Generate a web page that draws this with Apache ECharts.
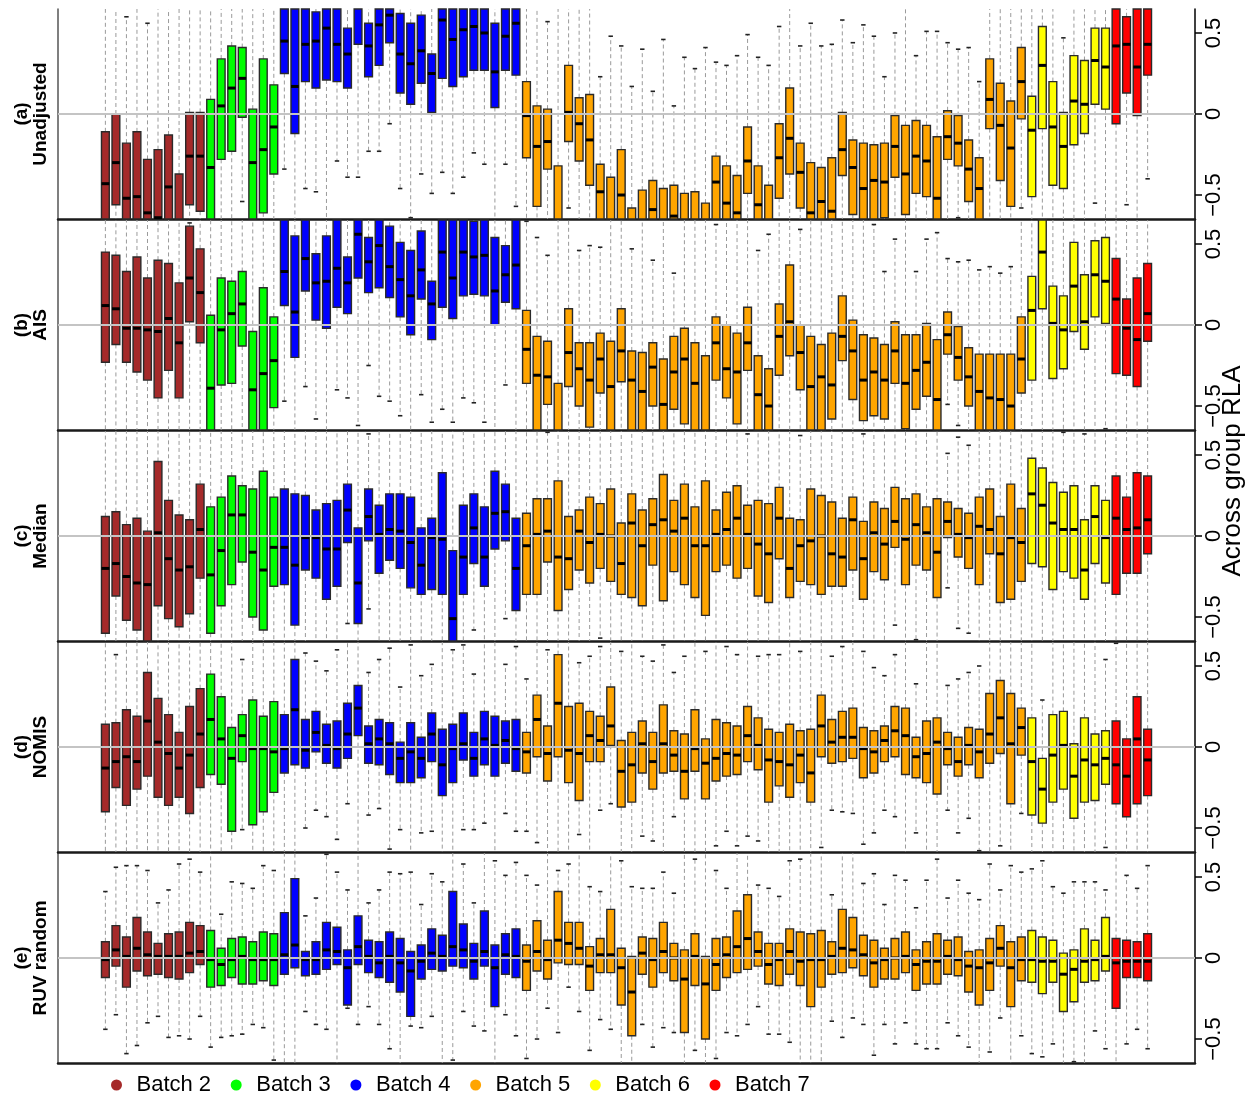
<!DOCTYPE html>
<html><head><meta charset="utf-8">
<script src="https://cdn.jsdelivr.net/npm/echarts@6/dist/echarts.min.js"></script>
<style>html,body{margin:0;padding:0;background:#fff}#c{width:1256px;height:1097px}</style>
</head><body><div id="c"></div><script>
const batchNames = ['Batch 2','Batch 3','Batch 4','Batch 5','Batch 6','Batch 7'];
const batchSizes = [10,7,23,48,8,4];
const panelTags = ['(a)','(b)','(c)','(d)','(e)'];
const panelNames = ['Unadjusted','AIS','Median','NOMIS','RUV random'];
const yTicks = [-0.5, 0, 0.5];
const axisTitle = 'Across group RLA';

// ---- (a) Unadjusted ----
const a_q1 = [-0.75,-0.56,-0.75,-0.75,-0.80,-0.85,-0.75,-0.90,-0.56,-0.60,
 -0.75,-0.28,-0.23,-0.02,-0.75,-0.61,-0.37,
 0.25,-0.12,0.20,0.16,0.21,0.20,0.16,0.43,0.23,0.30,0.44,0.13,0.06,0.19,0.01,0.22,0.17,0.23,0.27,0.27,0.04,0.27,0.24,
 -0.27,-0.57,-0.34,-0.90,-0.17,-0.29,-0.44,-0.80,-0.90,-0.80,
 -0.90,-0.90,-0.80,-0.90,-0.80,-0.90,-0.90,-0.90,-0.75,-0.80,
 -0.80,-0.49,-0.80,-0.90,-0.52,-0.37,-0.58,-0.80,-0.80,-0.80,
 -0.38,-0.62,-0.80,-0.75,-0.64,-0.39,-0.62,-0.49,-0.51,-0.75,
 -0.28,-0.32,-0.54,-0.75,-0.09,-0.41,-0.57,-0.03,
 -0.51,-0.09,-0.44,-0.46,-0.19,-0.12,0.06,0.03,
 -0.06,0.13,-0.01,0.24];
const a_med = [-0.43,-0.30,-0.52,-0.51,-0.61,-0.64,-0.45,-0.68,-0.26,-0.26,
 -0.33,0.05,0.16,0.22,-0.30,-0.22,-0.08,
 0.45,0.17,0.43,0.45,0.53,0.43,0.37,0.66,0.42,0.55,0.61,0.37,0.31,0.39,0.25,0.58,0.46,0.52,0.54,0.50,0.26,0.48,0.56,
 -0.01,-0.20,-0.17,-0.70,0.01,-0.06,-0.16,-0.48,-0.70,-0.50,
 -0.72,-0.70,-0.59,-0.69,-0.63,-0.70,-0.70,-0.72,-0.42,-0.55,
 -0.61,-0.29,-0.56,-0.70,-0.27,-0.15,-0.36,-0.61,-0.54,-0.60,
 -0.22,-0.33,-0.46,-0.41,-0.42,-0.20,-0.37,-0.26,-0.29,-0.52,
 -0.14,-0.18,-0.34,-0.46,0.09,-0.07,-0.21,0.20,
 -0.10,0.30,-0.08,-0.20,0.08,0.06,0.33,0.29,
 0.42,0.43,0.29,0.43];
const a_q3 = [-0.11,0.00,-0.18,-0.11,-0.28,-0.22,-0.13,-0.37,0.01,0.01,
 0.09,0.34,0.42,0.41,0.03,0.34,0.18,
 0.75,0.75,0.75,0.63,0.75,0.75,0.53,0.80,0.56,0.75,0.80,0.62,0.56,0.61,0.37,0.75,0.75,0.75,0.75,0.75,0.56,0.75,0.75,
 0.20,0.05,0.03,-0.32,0.30,0.10,0.12,-0.31,-0.39,-0.22,
 -0.58,-0.47,-0.41,-0.46,-0.44,-0.49,-0.48,-0.55,-0.26,-0.32,
 -0.38,-0.08,-0.32,-0.44,-0.06,0.16,-0.18,-0.30,-0.33,-0.27,
 0.01,-0.16,-0.18,-0.19,-0.18,-0.01,-0.07,-0.04,-0.07,-0.14,
 0.02,-0.01,-0.16,-0.27,0.34,0.19,0.08,0.41,
 0.11,0.54,0.20,0.01,0.36,0.33,0.53,0.53,
 0.80,0.60,0.80,0.80];
const a_lo = [-0.9,-0.9,-0.9,-0.9,-0.9,-0.9,-0.9,-0.9,-0.9,-0.9,
 -0.9,-0.9,-0.9,-0.54,-0.9,-0.9,-0.9,
 -0.34,-0.9,-0.46,-0.48,-0.9,-0.29,-0.39,-0.39,-0.23,-0.23,-0.06,-0.46,-0.64,-0.37,-0.49,-0.36,-0.49,-0.39,-0.24,-0.31,-0.9,-0.31,-0.57,
 -0.9,-0.9,-0.9,-0.9,-0.58,-0.9,-0.9,-0.9,-0.9,-0.9,
 -0.9,-0.9,-0.9,-0.9,-0.9,-0.9,-0.9,-0.9,-0.9,-0.9,
 -0.9,-0.9,-0.9,-0.9,-0.9,-0.9,-0.9,-0.9,-0.9,-0.9,
 -0.9,-0.9,-0.9,-0.9,-0.9,-0.9,-0.9,-0.9,-0.9,-0.9,
 -0.9,-0.64,-0.9,-0.9,-0.9,-0.9,-0.9,-0.58,
 -0.9,-0.9,-0.9,-0.9,-0.9,-0.9,-0.55,-0.9,
 -0.9,-0.56,-0.9,-0.40];
const a_hi = [0.9,0.9,0.60,0.9,0.56,0.9,0.9,0.9,0.9,0.9,
 0.9,0.9,0.9,0.9,0.9,0.9,0.9,
 0.9,0.9,0.9,0.9,0.9,0.9,0.9,0.9,0.9,0.9,0.9,0.9,0.9,0.9,0.9,0.9,0.9,0.9,0.9,0.9,0.9,0.9,0.9,
 0.9,0.9,0.57,0.9,0.9,0.9,0.9,0.23,0.48,0.42,
 0.17,0.40,0.14,0.46,0.05,0.35,0.28,0.41,0.32,0.30,
 0.36,0.49,0.35,0.30,0.54,0.9,0.42,0.56,0.42,0.43,
 0.58,0.44,0.55,0.48,0.23,0.50,0.9,0.36,0.51,0.51,
 0.44,0.40,0.41,0.20,0.9,0.9,0.9,0.9,
 0.9,0.9,0.9,0.47,0.9,0.9,0.9,0.9,
 0.9,0.9,0.9,0.9];

// ---- (b) AIS ----
const b_q1 = [-0.23,-0.12,-0.23,-0.29,-0.34,-0.45,-0.28,-0.45,0.02,-0.11,
 -0.8,-0.37,-0.36,-0.13,-0.8,-0.8,-0.51,
 0.12,-0.20,0.21,0.03,-0.02,0.11,0.07,0.29,0.20,0.23,0.17,0.05,-0.06,0.16,-0.09,0.11,0.04,0.18,0.19,0.18,0.00,0.14,0.10,
 -0.36,-0.8,-0.49,-0.9,-0.38,-0.50,-0.63,-0.42,-0.8,-0.35,
 -0.8,-0.8,-0.50,-0.8,-0.52,-0.61,-0.8,-0.9,-0.34,-0.45,
 -0.61,-0.28,-0.8,-0.8,-0.31,-0.19,-0.40,-0.8,-0.8,-0.58,
 -0.22,-0.46,-0.59,-0.56,-0.58,-0.36,-0.64,-0.52,-0.44,-0.8,
 -0.18,-0.34,-0.50,-0.8,-0.65,-0.66,-0.8,-0.42,
 -0.34,0.10,-0.33,-0.27,-0.04,-0.15,0.05,0.01,
 -0.30,-0.31,-0.38,-0.10];
const b_med = [0.12,0.10,-0.02,-0.02,-0.03,-0.04,0.04,-0.11,0.29,0.20,
 -0.39,-0.03,0.07,0.13,-0.40,-0.30,-0.22,
 0.33,0.08,0.41,0.26,0.27,0.35,0.26,0.56,0.39,0.49,0.36,0.28,0.18,0.34,0.13,0.45,0.29,0.45,0.42,0.43,0.21,0.31,0.37,
 -0.15,-0.31,-0.32,-0.70,-0.17,-0.27,-0.34,-0.21,-0.38,-0.16,
 -0.34,-0.41,-0.26,-0.49,-0.29,-0.21,-0.36,-0.70,-0.11,-0.27,
 -0.29,-0.11,-0.43,-0.50,-0.07,0.02,-0.17,-0.38,-0.32,-0.37,
 -0.07,-0.16,-0.34,-0.29,-0.34,-0.16,-0.36,-0.28,-0.23,-0.46,
 -0.06,-0.20,-0.32,-0.41,-0.45,-0.46,-0.50,-0.21,
 0.09,0.45,0.01,-0.03,0.24,0.02,0.31,0.27,
 0.16,-0.02,-0.09,0.07];
const b_q3 = [0.45,0.43,0.33,0.42,0.29,0.40,0.38,0.26,0.61,0.47,
 0.06,0.29,0.27,0.33,-0.04,0.23,0.05,
 0.75,0.55,0.75,0.44,0.55,0.75,0.42,0.80,0.54,0.75,0.61,0.51,0.46,0.58,0.27,0.75,0.75,0.75,0.64,0.75,0.54,0.49,0.75,
 0.09,-0.07,-0.10,-0.36,0.10,-0.11,-0.11,-0.05,-0.10,0.10,
 -0.16,-0.17,-0.11,-0.21,-0.07,-0.02,-0.11,-0.19,0.05,0.00,
 -0.05,0.11,-0.19,-0.27,0.13,0.37,0.00,-0.07,-0.12,-0.05,
 0.18,0.03,-0.06,-0.08,-0.12,0.02,-0.06,-0.06,0.01,-0.09,
 0.08,-0.01,-0.14,-0.18,-0.18,-0.18,-0.18,0.05,
 0.30,0.80,0.24,0.18,0.51,0.31,0.52,0.54,
 0.41,0.16,0.29,0.38];
const b_lo = [-0.9,-0.9,-0.9,-0.9,-0.9,-0.9,-0.9,-0.9,-0.9,-0.9,
 -0.9,-0.9,-0.9,-0.9,-0.9,-0.9,-0.9,
 -0.47,-0.9,-0.38,-0.58,-0.9,-0.40,-0.45,-0.62,-0.25,-0.44,-0.47,-0.56,-0.9,-0.43,-0.60,-0.52,-0.60,-0.45,-0.48,-0.60,-0.9,-0.37,-0.9,
 -0.9,-0.9,-0.9,-0.9,-0.9,-0.9,-0.9,-0.9,-0.9,-0.9,
 -0.9,-0.9,-0.9,-0.9,-0.9,-0.9,-0.9,-0.9,-0.9,-0.9,
 -0.9,-0.9,-0.9,-0.9,-0.9,-0.9,-0.9,-0.9,-0.9,-0.9,
 -0.9,-0.9,-0.9,-0.9,-0.9,-0.9,-0.9,-0.9,-0.9,-0.9,
 -0.49,-0.62,-0.9,-0.9,-0.9,-0.9,-0.9,-0.9,
 -0.9,-0.9,-0.9,-0.9,-0.9,-0.9,-0.9,-0.64,
 -0.9,-0.9,-0.9,-0.9];
const b_hi = [0.9,0.9,0.9,0.9,0.9,0.9,0.9,0.9,0.63,0.9,
 0.9,0.9,0.9,0.9,0.9,0.9,0.9,
 0.9,0.9,0.9,0.9,0.9,0.9,0.9,0.9,0.9,0.9,0.9,0.9,0.9,0.9,0.9,0.9,0.9,0.9,0.9,0.9,0.9,0.9,0.9,
 0.64,0.54,0.43,0.9,0.9,0.46,0.49,0.48,0.9,0.9,
 0.47,0.9,0.40,0.9,0.32,0.9,0.9,0.9,0.62,0.9,
 0.9,0.9,0.46,0.56,0.9,0.9,0.59,0.9,0.9,0.9,
 0.9,0.9,0.9,0.62,0.33,0.53,0.9,0.33,0.53,0.57,
 0.41,0.39,0.40,0.34,0.36,0.32,0.36,0.9,
 0.9,0.9,0.9,0.9,0.9,0.9,0.9,0.9,
 0.9,0.9,0.9,0.9];

// ---- (c) Median ----
const c_q1 = [-0.60,-0.37,-0.52,-0.58,-0.70,-0.43,-0.51,-0.56,-0.48,-0.26,
 -0.60,-0.43,-0.30,-0.16,-0.50,-0.58,-0.31,
 -0.30,-0.55,-0.21,-0.26,-0.39,-0.31,-0.04,-0.54,-0.03,-0.23,-0.15,-0.20,-0.32,-0.36,-0.33,-0.36,-0.70,-0.36,-0.17,-0.31,-0.08,-0.03,-0.46,
 -0.36,-0.36,-0.16,-0.46,-0.33,-0.21,-0.29,-0.20,-0.28,-0.36,
 -0.38,-0.43,-0.18,-0.40,-0.22,-0.30,-0.38,-0.49,-0.22,-0.18,
 -0.26,-0.20,-0.37,-0.41,-0.14,-0.38,-0.28,-0.30,-0.36,-0.31,
 -0.31,-0.21,-0.39,-0.22,-0.27,-0.07,-0.30,-0.18,-0.21,-0.38,
 -0.01,-0.13,-0.20,-0.30,-0.11,-0.41,-0.39,-0.28,
 -0.17,-0.19,-0.33,-0.22,-0.26,-0.39,-0.17,-0.29,
 -0.36,-0.23,-0.23,-0.11];
const c_med = [-0.20,-0.17,-0.25,-0.29,-0.30,0.02,-0.14,-0.21,-0.19,0.04,
 -0.24,-0.09,0.13,0.13,-0.10,-0.21,-0.07,
 -0.07,-0.18,-0.01,-0.01,-0.08,-0.08,0.16,-0.29,0.12,0.01,0.04,0.03,-0.04,-0.18,-0.01,-0.02,-0.51,-0.13,0.05,-0.13,0.14,0.15,-0.20,
 -0.06,0.01,0.03,-0.13,-0.14,0.03,-0.04,0.01,0.00,-0.17,
 0.08,-0.06,0.07,0.10,0.03,0.11,-0.06,-0.06,0.01,0.04,
 0.11,0.01,-0.05,-0.11,0.11,-0.20,-0.06,-0.03,0.00,-0.11,
 -0.13,0.10,-0.14,0.02,-0.05,0.09,-0.02,0.07,0.02,-0.10,
 0.09,0.01,-0.01,0.06,0.04,-0.11,-0.01,-0.04,
 0.26,0.19,0.08,0.04,0.04,-0.21,0.12,-0.01,
 0.11,0.04,0.05,0.10];
const c_q3 = [0.12,0.15,0.07,0.11,0.03,0.46,0.22,0.13,0.10,0.32,
 0.18,0.24,0.37,0.31,0.29,0.40,0.24,
 0.29,0.26,0.25,0.16,0.20,0.22,0.32,0.05,0.29,0.19,0.26,0.26,0.24,0.05,0.11,0.39,-0.09,0.19,0.26,0.18,0.40,0.32,0.11,
 0.14,0.23,0.23,0.34,0.12,0.16,0.24,0.20,0.29,0.08,
 0.26,0.16,0.23,0.38,0.22,0.32,0.18,0.34,0.16,0.27,
 0.31,0.19,0.22,0.20,0.30,0.11,0.10,0.29,0.25,0.21,
 0.11,0.24,0.09,0.21,0.17,0.30,0.23,0.26,0.18,0.23,
 0.21,0.17,0.14,0.24,0.29,0.12,0.32,0.17,
 0.48,0.42,0.33,0.27,0.31,0.10,0.31,0.22,
 0.37,0.24,0.39,0.37];
const c_lo = [-0.9,-0.9,-0.9,-0.9,-0.9,-0.9,-0.9,-0.9,-0.9,-0.9,
 -0.9,-0.9,-0.9,-0.9,-0.9,-0.9,-0.9,
 -0.9,-0.9,-0.9,-0.9,-0.9,-0.9,-0.54,-0.9,-0.45,-0.9,-0.9,-0.9,-0.9,-0.9,-0.9,-0.9,-0.9,-0.9,-0.58,-0.9,-0.9,-0.51,-0.9,
 -0.9,-0.9,-0.9,-0.9,-0.9,-0.9,-0.9,-0.63,-0.9,-0.9,
 -0.9,-0.9,-0.9,-0.9,-0.9,-0.9,-0.9,-0.9,-0.9,-0.9,
 -0.9,-0.9,-0.9,-0.9,-0.9,-0.9,-0.9,-0.9,-0.9,-0.9,
 -0.9,-0.9,-0.9,-0.9,-0.9,-0.55,-0.9,-0.64,-0.9,-0.9,
 -0.32,-0.57,-0.60,-0.9,-0.9,-0.9,-0.9,-0.9,
 -0.9,-0.9,-0.9,-0.9,-0.9,-0.9,-0.9,-0.9,
 -0.9,-0.9,-0.9,-0.9];
const c_hi = [0.9,0.9,0.9,0.9,0.9,0.9,0.9,0.9,0.9,0.9,
 0.9,0.9,0.9,0.9,0.9,0.9,0.9,
 0.9,0.9,0.9,0.9,0.9,0.9,0.9,0.9,0.63,0.9,0.9,0.9,0.9,0.9,0.9,0.9,0.9,0.9,0.9,0.9,0.9,0.9,0.9,
 0.9,0.9,0.64,0.9,0.9,0.9,0.9,0.9,0.9,0.9,
 0.9,0.9,0.9,0.9,0.9,0.9,0.9,0.9,0.9,0.9,
 0.9,0.63,0.9,0.9,0.9,0.9,0.62,0.9,0.9,0.9,
 0.9,0.9,0.63,0.9,0.9,0.9,0.9,0.9,0.9,0.9,
 0.51,0.61,0.56,0.9,0.9,0.9,0.9,0.9,
 0.9,0.9,0.9,0.64,0.9,0.63,0.9,0.9,
 0.9,0.9,0.9,0.9];

// ---- (d) NOMIS ----
const d_q1 = [-0.40,-0.25,-0.36,-0.26,-0.18,-0.31,-0.36,-0.31,-0.41,-0.25,
 -0.17,-0.23,-0.52,-0.09,-0.48,-0.40,-0.28,
 -0.16,-0.11,-0.13,-0.03,-0.10,-0.13,-0.07,0.07,-0.10,-0.11,-0.17,-0.22,-0.22,-0.19,-0.09,-0.30,-0.22,-0.08,-0.18,-0.11,-0.18,-0.10,-0.15,
 -0.16,-0.06,-0.21,-0.06,-0.22,-0.33,-0.09,-0.09,0.01,-0.37,
 -0.34,-0.16,-0.26,-0.16,-0.15,-0.32,-0.15,-0.32,-0.21,-0.18,
 -0.17,-0.09,-0.14,-0.34,-0.24,-0.31,-0.22,-0.34,-0.06,-0.10,
 -0.09,-0.07,-0.19,-0.16,-0.09,-0.06,-0.17,-0.19,-0.22,-0.29,
 -0.11,-0.18,-0.11,-0.19,-0.10,-0.04,-0.35,-0.05,
 -0.42,-0.47,-0.34,-0.26,-0.44,-0.34,-0.33,-0.23,
 -0.35,-0.43,-0.35,-0.30];
const d_med = [-0.13,-0.09,-0.06,-0.09,0.16,0.03,-0.04,-0.13,-0.05,0.08,
 0.17,0.05,-0.07,0.07,-0.01,-0.01,-0.03,
 -0.01,0.23,-0.02,0.09,0.01,-0.01,0.08,0.24,0.02,0.05,0.02,-0.07,-0.03,-0.07,0.08,-0.11,-0.01,0.02,-0.07,0.05,0.01,0.04,-0.01,
 -0.03,0.17,-0.04,0.27,-0.02,-0.04,0.07,0.04,0.13,-0.15,
 -0.11,0.02,-0.09,0.02,-0.05,-0.15,-0.01,-0.10,-0.07,-0.04,
 -0.05,0.07,0.01,-0.08,-0.09,-0.11,-0.05,-0.16,0.13,0.03,
 0.06,0.06,-0.01,-0.03,0.04,0.10,0.07,-0.06,-0.04,0.03,
 -0.01,-0.09,0.01,-0.03,0.08,0.18,0.02,0.12,
 -0.09,-0.26,-0.05,0.01,-0.18,-0.08,-0.11,-0.07,
 -0.11,-0.18,0.05,-0.08];
const d_q3 = [0.14,0.15,0.23,0.19,0.46,0.30,0.20,0.09,0.25,0.36,
 0.45,0.31,0.12,0.20,0.29,0.19,0.28,
 0.20,0.54,0.17,0.22,0.14,0.16,0.27,0.38,0.13,0.17,0.15,0.03,0.15,0.06,0.21,0.11,0.14,0.21,0.09,0.22,0.19,0.16,0.17,
 0.09,0.32,0.13,0.57,0.25,0.27,0.22,0.19,0.37,0.04,
 0.09,0.16,0.09,0.26,0.10,0.08,0.23,0.05,0.17,0.15,
 0.13,0.25,0.18,0.11,0.09,0.14,0.10,0.11,0.32,0.17,
 0.22,0.24,0.12,0.10,0.13,0.25,0.24,0.06,0.16,0.18,
 0.09,0.06,0.12,0.11,0.33,0.41,0.33,0.24,
 0.18,-0.07,0.20,0.22,0.02,0.18,0.08,0.10,
 0.16,0.05,0.31,0.11];
const d_lo = [-0.9,-0.9,-0.9,-0.9,-0.9,-0.9,-0.9,-0.9,-0.9,-0.9,
 -0.9,-0.9,-0.9,-0.51,-0.9,-0.9,-0.9,
 -0.9,-0.9,-0.50,-0.39,-0.43,-0.57,-0.35,-0.9,-0.42,-0.38,-0.63,-0.51,-0.9,-0.53,-0.52,-0.9,-0.65,-0.51,-0.51,-0.47,-0.9,-0.41,-0.52,
 -0.52,-0.59,-0.9,-0.9,-0.9,-0.54,-0.9,-0.39,-0.35,-0.9,
 -0.9,-0.55,-0.58,-0.9,-0.43,-0.9,-0.9,-0.9,-0.61,-0.52,
 -0.61,-0.55,-0.58,-0.9,-0.9,-0.9,-0.9,-0.9,-0.62,-0.39,
 -0.40,-0.41,-0.60,-0.53,-0.39,-0.43,-0.9,-0.53,-0.9,-0.9,
 -0.39,-0.53,-0.44,-0.64,-0.9,-0.61,-0.9,-0.41,
 -0.9,-0.9,-0.9,-0.9,-0.9,-0.9,-0.9,-0.62,
 -0.9,-0.9,-0.9,-0.9];
const d_hi = [0.9,0.57,0.9,0.9,0.9,0.9,0.9,0.9,0.9,0.9,
 0.9,0.9,0.9,0.54,0.9,0.9,0.9,
 0.9,0.9,0.58,0.53,0.47,0.60,0.9,0.9,0.46,0.54,0.61,0.37,0.63,0.44,0.51,0.9,0.60,0.63,0.45,0.9,0.9,0.51,0.62,
 0.42,0.9,0.60,0.9,0.9,0.52,0.56,0.62,0.9,0.59,
 0.9,0.56,0.53,0.63,0.46,0.56,0.9,0.59,0.9,0.62,
 0.57,0.9,0.56,0.57,0.57,0.9,0.59,0.9,0.9,0.56,
 0.62,0.9,0.59,0.49,0.44,0.57,0.9,0.39,0.9,0.9,
 0.38,0.42,0.46,0.50,0.9,0.9,0.9,0.9,
 0.9,0.29,0.9,0.9,0.9,0.9,0.9,0.54,
 0.64,0.9,0.9,0.9];

// ---- (e) RUV random ----
const e_q1 = [-0.12,-0.05,-0.18,-0.08,-0.11,-0.10,-0.12,-0.13,-0.09,-0.04,
 -0.18,-0.17,-0.12,-0.16,-0.16,-0.14,-0.17,
 -0.10,-0.06,-0.11,-0.10,-0.07,-0.04,-0.29,-0.04,-0.09,-0.12,-0.15,-0.21,-0.36,-0.13,-0.07,-0.08,-0.05,-0.06,-0.13,-0.05,-0.30,-0.10,-0.12,
 -0.20,-0.08,-0.13,-0.03,-0.04,-0.04,-0.20,-0.09,-0.09,-0.29,
 -0.48,-0.10,-0.18,-0.09,-0.14,-0.46,-0.17,-0.50,-0.20,-0.12,
 -0.09,-0.07,-0.05,-0.16,-0.17,-0.10,-0.17,-0.30,-0.18,-0.10,
 -0.09,-0.06,-0.11,-0.18,-0.13,-0.13,-0.09,-0.20,-0.16,-0.16,
 -0.10,-0.11,-0.21,-0.29,-0.20,-0.05,-0.30,-0.14,
 -0.15,-0.22,-0.15,-0.33,-0.27,-0.15,-0.14,-0.08,
 -0.31,-0.12,-0.12,-0.14];
const e_med = [-0.01,0.05,0.01,0.06,0.02,0.01,0.01,0.01,0.03,0.04,
 -0.01,-0.04,-0.01,0.01,-0.01,-0.01,-0.01,
 0.02,0.08,-0.01,-0.01,0.05,0.04,-0.06,0.07,0.01,-0.03,0.01,-0.03,-0.08,-0.02,0.03,0.01,0.07,0.05,-0.02,0.04,-0.06,0.02,0.01,
 -0.02,0.04,-0.01,0.11,0.09,0.06,-0.05,0.02,0.02,-0.06,
 -0.21,0.03,-0.01,0.04,0.00,-0.13,0.01,-0.16,-0.04,0.02,
 0.07,0.12,0.04,-0.04,-0.01,0.04,-0.02,-0.01,-0.01,0.01,
 0.06,0.05,0.02,-0.03,-0.01,0.00,0.01,-0.04,-0.02,-0.02,
 0.01,-0.01,-0.05,-0.06,-0.03,0.06,-0.06,-0.01,
 -0.01,-0.02,-0.02,-0.10,-0.07,-0.02,-0.01,0.01,
 -0.03,-0.02,-0.02,-0.02];
const e_q3 = [0.10,0.20,0.13,0.25,0.16,0.09,0.15,0.16,0.22,0.20,
 0.17,0.06,0.12,0.13,0.10,0.16,0.15,
 0.28,0.49,0.04,0.10,0.22,0.19,0.05,0.26,0.11,0.10,0.16,0.12,0.04,0.08,0.18,0.14,0.41,0.21,0.09,0.29,0.08,0.15,0.18,
 0.08,0.23,0.11,0.41,0.22,0.22,0.07,0.12,0.30,0.06,
 0.01,0.13,0.12,0.22,0.09,0.05,0.15,0.01,0.12,0.13,
 0.29,0.39,0.16,0.09,0.09,0.18,0.16,0.15,0.17,0.10,
 0.30,0.25,0.14,0.11,0.06,0.12,0.16,0.05,0.10,0.15,
 0.11,0.13,0.04,0.05,0.12,0.20,0.10,0.13,
 0.17,0.13,0.11,0.03,0.05,0.18,0.11,0.25,
 0.12,0.11,0.10,0.15];
const e_lo = [-0.44,-0.35,-0.59,-0.54,-0.40,-0.36,-0.49,-0.48,-0.50,-0.36,
 -0.55,-0.49,-0.48,-0.47,-0.41,-0.43,-0.63,
 -0.9,-0.9,-0.33,-0.41,-0.44,-0.9,-0.31,-0.41,-0.30,-0.41,-0.56,-0.9,-0.42,-0.43,-0.36,-0.9,-0.63,-0.33,-0.42,-0.45,-0.9,-0.35,-0.48,
 -0.62,-0.50,-0.31,-0.46,-0.18,-0.33,-0.57,-0.38,-0.44,-0.9,
 -0.9,-0.41,-0.55,-0.43,-0.46,-0.9,-0.57,-0.9,-0.62,-0.46,
 -0.48,-0.41,-0.30,-0.47,-0.47,-0.52,-0.9,-0.9,-0.9,-0.39,
 -0.49,-0.37,-0.41,-0.60,-0.41,-0.53,-0.40,-0.53,-0.56,-0.56,
 -0.40,-0.48,-0.55,-0.9,-0.58,-0.37,-0.9,-0.48,
 -0.59,-0.61,-0.53,-0.9,-0.64,-0.9,-0.45,-0.56,
 -0.9,-0.53,-0.44,-0.56];
const e_hi = [0.41,0.56,0.57,0.57,0.54,0.34,0.42,0.58,0.61,0.53,
 0.9,0.27,0.47,0.46,0.43,0.57,0.54,
 0.9,0.9,0.26,0.37,0.64,0.53,0.42,0.9,0.34,0.42,0.53,0.52,0.53,0.33,0.52,0.47,0.9,0.58,0.34,0.9,0.60,0.51,0.59,
 0.51,0.45,0.9,0.54,0.58,0.9,0.44,0.41,0.9,0.60,
 0.44,0.43,0.43,0.53,0.40,0.9,0.61,0.9,0.54,0.43,
 0.9,0.9,0.45,0.43,0.38,0.60,0.61,0.9,0.9,0.39,
 0.9,0.9,0.46,0.52,0.33,0.51,0.48,0.31,0.48,0.61,
 0.37,0.48,0.40,0.36,0.58,0.42,0.57,0.53,
 0.55,0.60,0.44,0.40,0.47,0.47,0.47,0.42,
 0.9,0.51,0.43,0.57];

// ---- styling ----
const batchColors = ['#A52A2A','#00FF00','#0000FF','#FFA500','#FFFF00','#FF0000'];
const FONT = '"Liberation Sans", Arial, Helvetica, sans-serif';
const YMIN = -0.648, YMAX = 0.648, XMIN = -3.5, XMAX = 104.5;
const BOX_W = 0.74, CAP_W = 0.42;

const panelData = [
  [a_lo, a_q1, a_med, a_q3, a_hi],
  [b_lo, b_q1, b_med, b_q3, b_hi],
  [c_lo, c_q1, c_med, c_q3, c_hi],
  [d_lo, d_q1, d_med, d_q3, d_hi],
  [e_lo, e_q1, e_med, e_q3, e_hi]
];

function renderBox(params, api) {
  const x = api.value(0), lo = api.value(1), q1 = api.value(2), md = api.value(3), q3 = api.value(4), hi = api.value(5);
  const cl = v => Math.max(YMIN, Math.min(YMAX, v));
  const inR = v => v >= YMIN && v <= YMAX;
  const fill = api.visual('color');
  const kids = [];
  const whisk = {stroke: '#9a9a9a', lineWidth: 1, lineDash: [4, 3], fill: null};
  if (hi > q3 && q3 < YMAX) {
    const a = api.coord([x, cl(q3)]), b = api.coord([x, cl(hi)]);
    kids.push({type: 'line', shape: {x1: a[0], y1: a[1], x2: b[0], y2: b[1]}, style: whisk});
  }
  if (lo < q1 && q1 > YMIN) {
    const a = api.coord([x, cl(q1)]), b = api.coord([x, cl(lo)]);
    kids.push({type: 'line', shape: {x1: a[0], y1: a[1], x2: b[0], y2: b[1]}, style: whisk});
  }
  const capStyle = {stroke: '#222', lineWidth: 1.6, fill: null};
  [hi, lo].forEach(v => {
    if (inR(v)) {
      const l = api.coord([x - CAP_W / 2, v]), r = api.coord([x + CAP_W / 2, v]);
      kids.push({type: 'line', shape: {x1: l[0], y1: l[1], x2: r[0], y2: r[1]}, style: capStyle});
    }
  });
  if (q3 > YMIN && q1 < YMAX) {
    const tl = api.coord([x - BOX_W / 2, cl(q3)]), br = api.coord([x + BOX_W / 2, cl(q1)]);
    kids.push({type: 'rect', shape: {x: tl[0], y: tl[1], width: br[0] - tl[0], height: br[1] - tl[1]},
      style: {fill: fill, stroke: '#2a2a2a', lineWidth: 1.4}});
  }
  if (inR(md)) {
    const l = api.coord([x - BOX_W / 2, md]), r = api.coord([x + BOX_W / 2, md]);
    kids.push({type: 'line', shape: {x1: l[0], y1: l[1], x2: r[0], y2: r[1]}, style: {stroke: '#000', lineWidth: 3, fill: null}});
  }
  return {type: 'group', children: kids};
}

const grids = [], xAxes = [], yAxes = [], series = [], graphics = [];
const errors = [];
panelData.forEach((arrs, p) => {
  arrs.forEach((a, k) => { if (a.length !== 100) errors.push('panel ' + p + ' arr ' + k + ' len ' + a.length); });
  const top = 9 + 211 * p;
  grids.push({left: 58, top: top, width: 1137, height: 210, containLabel: false, outerBoundsMode: 'none'});
  xAxes.push({type: 'value', gridIndex: p, min: XMIN, max: XMAX,
    axisLine: {show: true, onZero: false, lineStyle: {color: '#1a1a1a', width: 2.5}},
    axisTick: {show: false}, axisLabel: {show: false}, splitLine: {show: false}});
  yAxes.push({type: 'value', gridIndex: p, position: 'right', min: YMIN, max: YMAX,
    axisLine: {show: true, onZero: false, lineStyle: {color: '#000', width: 1.5}},
    axisTick: {show: true, length: 7, customValues: yTicks, lineStyle: {color: '#000', width: 1.5}},
    axisLabel: {show: true, customValues: yTicks, rotate: 90, fontSize: 22, color: '#000', fontFamily: FONT, margin: 8,
      formatter: v => (v < 0 ? '\u2212' + Math.abs(v) : String(v))},
    splitLine: {show: false}});
  yAxes.push({type: 'value', gridIndex: p, position: 'left', min: YMIN, max: YMAX,
    axisLine: {show: true, onZero: false, lineStyle: {color: '#555', width: 1.5}},
    axisTick: {show: false}, axisLabel: {show: false}, splitLine: {show: false}});
  let start = 0;
  batchSizes.forEach((n, b) => {
    const rows = [];
    for (let i = start; i < start + n; i++) {
      rows.push([i + 1, arrs[0][i], arrs[1][i], arrs[2][i], arrs[3][i], arrs[4][i]]);
    }
    start += n;
    series.push({type: 'custom', name: batchNames[b], xAxisIndex: p, yAxisIndex: 2 * p,
      data: rows, itemStyle: {color: batchColors[b]}, renderItem: renderBox,
      encode: {x: 0, y: [1, 2, 3, 4, 5]}, silent: true, z: 2, animation: false});
  });
  series.push({type: 'line', name: 'zero' + p, xAxisIndex: p, yAxisIndex: 2 * p, data: [], z: 10, silent: true,
    markLine: {silent: true, symbol: 'none', label: {show: false}, animation: false,
      lineStyle: {color: '#c4c4c4', width: 2, type: 'solid'}, data: [{yAxis: 0}]}});
  const cy = top + 105;
  graphics.push({type: 'text', x: 22, y: cy, rotation: Math.PI / 2,
    style: {text: panelTags[p], fontSize: 19, fontWeight: 'bold', fontFamily: FONT, fill: '#000',
      align: 'center', verticalAlign: 'middle', textAlign: 'center', textVerticalAlign: 'middle'}});
  graphics.push({type: 'text', x: 41, y: cy, rotation: Math.PI / 2,
    style: {text: panelNames[p], fontSize: 19, fontWeight: 'bold', fontFamily: FONT, fill: '#000',
      align: 'center', verticalAlign: 'middle', textAlign: 'center', textVerticalAlign: 'middle'}});
});
graphics.push({type: 'text', x: 1233, y: 471, rotation: Math.PI / 2,
  style: {text: axisTitle, fontSize: 26, fontFamily: FONT, fill: '#000',
    align: 'center', verticalAlign: 'middle', textAlign: 'center', textVerticalAlign: 'middle'}});
if (errors.length) graphics.push({type: 'text', x: 300, y: 500, style: {text: errors.join('\n'), fontSize: 20, fill: '#f0f'}});

const chart = echarts.init(document.getElementById('c'), null, {renderer: 'canvas'});
chart.setOption({
  animation: false,
  backgroundColor: '#fff',
  grid: grids, xAxis: xAxes, yAxis: yAxes, series: series, graphic: graphics,
  legend: {data: batchNames, left: 106, top: 1069, icon: 'circle', itemWidth: 30, itemHeight: 11, itemGap: 19.6,
    selectedMode: false, textStyle: {fontSize: 22, color: '#000', fontFamily: FONT}}
});
</script></body></html>
